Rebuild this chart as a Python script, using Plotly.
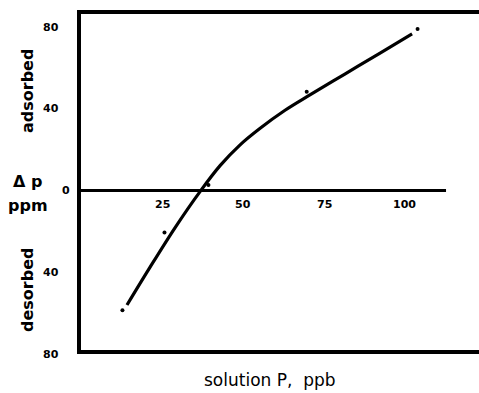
import plotly.graph_objects as go

# ---- data ----
point_x = [12.6, 25.6, 39.2, 69.6, 103.9]
point_y = [-58.5, -20.5, 2.7, 48.3, 79.0]

curve_x = [14.0, 21.1, 28.9, 36.6, 42.8, 49.0, 55.2, 62.9, 70.6, 81.4, 92.3, 102.2]
curve_y = [-56.0, -37.6, -18.1, -0.5, 12.2, 22.4, 30.5, 39.3, 46.8, 57.0, 67.3, 76.7]

xtick_vals = [25, 50, 75, 100]
xtick_text = ["25", "50", "75", "100"]
ytick_vals = [80, 40, 0, -40, -80]
ytick_text = ["80", "40", "0", "40", "80"]

baseline_end = 112.7

# ---- layout geometry (pixels) ----
W, H = 479, 393
L, R, T, B = 81, 0, 14, 43
PW, PH = W - L - R, H - T - B
XR = [-0.22, 122.9]
YR = [-78.0, 86.4]


def px(xp):
    return (xp - L) / PW


def py(yp):
    return (H - B - yp) / PH


def yfrac(v):
    return (v - YR[0]) / (YR[1] - YR[0])


FONT = "DejaVu Sans"
fig = go.Figure()

fig.add_trace(go.Scatter(
    x=curve_x, y=curve_y, mode="lines",
    line=dict(color="black", width=3.2, shape="spline", smoothing=1.0),
    hoverinfo="skip", showlegend=False,
))
fig.add_trace(go.Scatter(
    x=point_x, y=point_y, mode="markers",
    marker=dict(color="black", size=4),
    showlegend=False,
))

fig.add_shape(type="line", xref="x", yref="y", x0=-0.3, x1=baseline_end, y0=0, y1=0,
              line=dict(color="black", width=3))

annotations = []
for v, t in zip(ytick_vals, ytick_text):
    shift = -9 if v == 0 else -20
    annotations.append(dict(
        x=0, xref="paper", y=yfrac(v), yref="paper", text=t, showarrow=False,
        xanchor="right", yanchor="middle", xshift=shift,
        font=dict(family=FONT, size=11, color="black", weight="bold"),
    ))
for v, t in zip(xtick_vals, xtick_text):
    annotations.append(dict(
        x=v, xref="x", y=0, yref="y", text=t, showarrow=False,
        xanchor="center", yanchor="middle", yshift=-14,
        font=dict(family=FONT, size=11, color="black", weight="bold"),
    ))

title_font = dict(family=FONT, size=16, color="black", weight="bold")


def label(xp, yp, text, font, angle=0):
    return dict(x=px(xp), y=py(yp), xref="paper", yref="paper", text=text,
                textangle=angle, showarrow=False, xanchor="center",
                yanchor="middle", font=font)


annotations += [
    label(28, 91, "adsorbed", title_font, -90),
    label(27, 290, "desorbed", title_font, -90),
    label(27, 181, "Δ p", title_font),
    label(28, 205, "ppm", title_font),
    label(270, 380, "solution P,  ppb", dict(family=FONT, size=17, color="black")),
]

fig.update_layout(
    width=W, height=H,
    margin=dict(l=L, r=R, t=T, b=B, pad=0),
    paper_bgcolor="white", plot_bgcolor="white",
    showlegend=False,
    annotations=annotations,
    xaxis=dict(range=XR, showgrid=False, zeroline=False,
               showticklabels=False, ticks="", showline=True, linecolor="black",
               linewidth=4, mirror=True),
    yaxis=dict(range=YR, showgrid=False, zeroline=False,
               showticklabels=False, ticks="", showline=True, linecolor="black",
               linewidth=4, mirror=False),
)

fig.write_html("out.html", config={"displayModeBar": False},
               post_script="document.body.style.margin='0';")
